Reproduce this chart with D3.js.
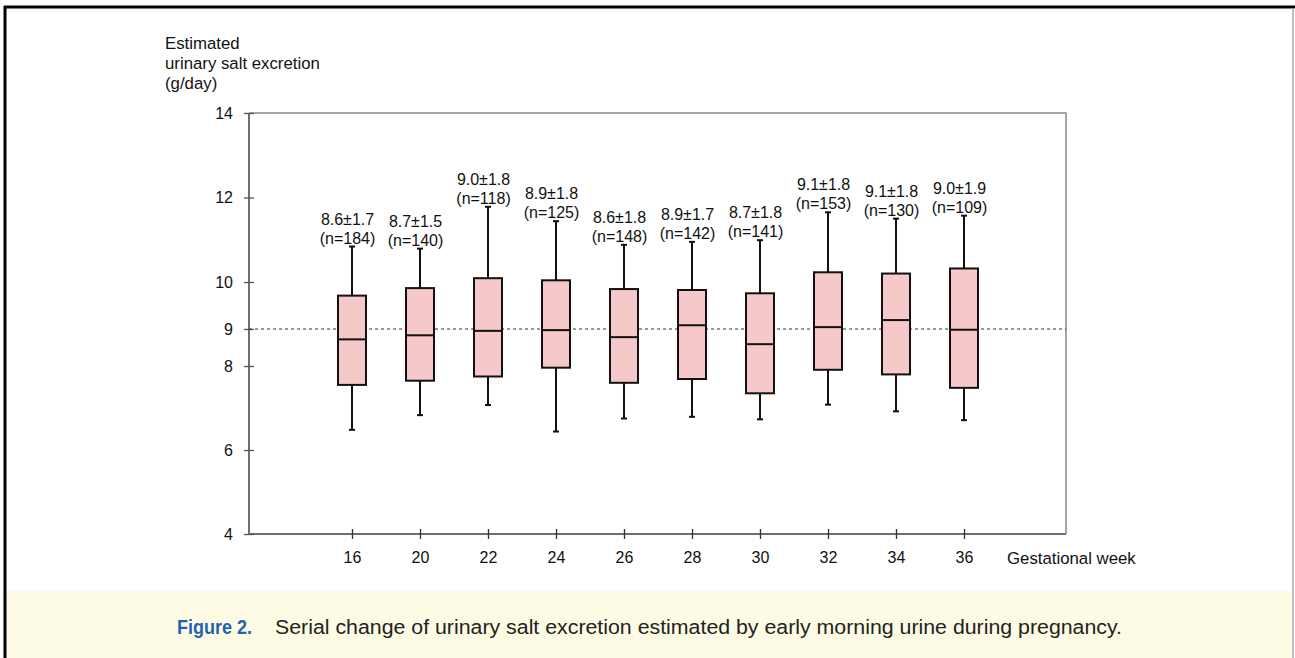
<!DOCTYPE html>
<html>
<head>
<meta charset="utf-8">
<script src="https://cdn.jsdelivr.net/npm/d3@7"></script>
<style>
  body { margin: 0; background: #fff; }
  svg { display: block; font-family: "Liberation Sans", Arial, sans-serif; }
</style>
</head>
<body>
<div id="chart"></div>
<script>
// Data
var weeks = ["16", "20", "22", "24", "26", "28", "30", "32", "34", "36"];
var whiskerLow  = [6.48, 6.83, 7.07, 6.44, 6.75, 6.79, 6.73, 7.08, 6.92, 6.71];
var q1          = [7.55, 7.65, 7.75, 7.96, 7.60, 7.69, 7.35, 7.91, 7.80, 7.48];
var medians     = [8.72, 8.83, 8.95, 8.97, 8.78, 9.08, 8.59, 9.04, 9.19, 8.98];
var q3          = [9.71, 9.87, 10.09, 10.04, 9.85, 9.83, 9.76, 10.23, 10.20, 10.32];
var whiskerHigh = [10.84, 10.79, 11.78, 11.44, 10.88, 10.95, 10.99, 11.65, 11.50, 11.57];
var meanLabels  = ["8.6\u00b11.7", "8.7\u00b11.5", "9.0\u00b11.8", "8.9\u00b11.8", "8.6\u00b11.8",
                   "8.9\u00b11.7", "8.7\u00b11.8", "9.1\u00b11.8", "9.1\u00b11.8", "9.0\u00b11.9"];
var nLabels     = ["(n=184)", "(n=140)", "(n=118)", "(n=125)", "(n=148)",
                   "(n=142)", "(n=141)", "(n=153)", "(n=130)", "(n=109)"];
var yTicks = [4, 6, 8, 9, 10, 12, 14];
var refValue = 9;

var w = 1295;
var h = 658;
var plotLeft = 249, plotRight = 1066;
var boxWidth = 28;
var capWidth = 6;

var svg = d3.select("#chart").append("svg").attr("width", w).attr("height", h);

// Outer figure frame and caption band
svg.append("rect").attr("x", 6).attr("y", 591).attr("width", 1287).attr("height", 67).attr("fill", "#fdfbe3");
svg.append("line").attr("x1", 4).attr("x2", w).attr("y1", 7).attr("y2", 7)
    .attr("stroke", "#000").attr("stroke-width", 3);
svg.append("line").attr("x1", 5).attr("x2", 5).attr("y1", 6).attr("y2", h)
    .attr("stroke", "#000").attr("stroke-width", 3);
svg.append("line").attr("x1", 1293).attr("x2", 1293).attr("y1", 8).attr("y2", h)
    .attr("stroke", "#aaa").attr("stroke-width", 1.5);

// Scales (the 9 g/day gridline sits a bit off the linear spacing in the original)
var x = d3.scalePoint().domain(weeks).range([352, 964]);
var y = d3.scaleLinear().domain([4, 8, 9, 10, 14]).range([534, 366, 329, 282, 113]);

// Plot frame
var frame = svg.append("g").attr("fill", "none");
frame.append("path")
    .attr("d", "M" + plotLeft + "," + y(14) + "H" + plotRight + "V" + y(4))
    .attr("stroke", "#888").attr("stroke-width", 1.5);
frame.append("path")
    .attr("d", "M" + plotLeft + "," + y(14) + "V" + y(4) + "H" + plotRight)
    .attr("stroke", "#6e6e6e").attr("stroke-width", 2);

// Y axis
var yAxis = svg.append("g")
    .attr("transform", "translate(" + plotLeft + ",0)")
    .call(d3.axisLeft(y).tickValues(yTicks).tickSizeInner(5).tickSizeOuter(0).tickPadding(11));
yAxis.select(".domain").remove();
yAxis.selectAll(".tick line").attr("x2", -5).attr("x1", 5).attr("stroke", "#555").attr("stroke-width", 1.3);
yAxis.selectAll("text").attr("font-size", "16px").attr("fill", "#111")
    .attr("font-family", "'Liberation Sans', Arial, sans-serif");

// X axis
var xAxis = svg.append("g")
    .attr("transform", "translate(0," + y(4) + ")")
    .call(d3.axisBottom(x).tickSizeInner(5).tickSizeOuter(0).tickPadding(13));
xAxis.select(".domain").remove();
xAxis.selectAll(".tick line").attr("y1", -5).attr("y2", 5).attr("stroke", "#333").attr("stroke-width", 1.3);
xAxis.selectAll("text").attr("font-size", "16px").attr("fill", "#111")
    .attr("font-family", "'Liberation Sans', Arial, sans-serif");

// Axis titles
svg.append("text")
    .attr("x", 165).attr("y", 49)
    .attr("font-size", "16.8px").attr("fill", "#111")
    .selectAll("tspan")
    .data(["Estimated", "urinary salt excretion", "(g/day)"])
    .enter()
    .append("tspan")
    .attr("x", 165)
    .attr("dy", function(d, i) { return i == 0 ? 0 : 20; })
    .text(function(d) { return d; });

svg.append("text")
    .attr("x", 1007).attr("y", 564)
    .attr("font-size", "16.8px").attr("fill", "#111")
    .text("Gestational week");

// Reference line at 9 g/day
svg.append("line")
    .attr("x1", plotLeft).attr("x2", plotRight)
    .attr("y1", y(refValue)).attr("y2", y(refValue))
    .attr("stroke", "#333").attr("stroke-width", 1.2)
    .attr("stroke-dasharray", "3,3");

// Box plots
var boxes = svg.selectAll(".box")
    .data(weeks)
    .enter()
    .append("g")
    .attr("class", "box")
    .attr("transform", function(d) { return "translate(" + x(d) + ",0)"; });

boxes.append("line")
    .attr("y1", function(d, i) { return y(whiskerHigh[i]); })
    .attr("y2", function(d, i) { return y(q3[i]); })
    .attr("stroke", "#111").attr("stroke-width", 2);
boxes.append("line")
    .attr("y1", function(d, i) { return y(q1[i]); })
    .attr("y2", function(d, i) { return y(whiskerLow[i]); })
    .attr("stroke", "#111").attr("stroke-width", 2);

// whisker caps
boxes.append("line")
    .attr("x1", -capWidth / 2).attr("x2", capWidth / 2)
    .attr("y1", function(d, i) { return y(whiskerHigh[i]); })
    .attr("y2", function(d, i) { return y(whiskerHigh[i]); })
    .attr("stroke", "#111").attr("stroke-width", 2);
boxes.append("line")
    .attr("x1", -capWidth / 2).attr("x2", capWidth / 2)
    .attr("y1", function(d, i) { return y(whiskerLow[i]); })
    .attr("y2", function(d, i) { return y(whiskerLow[i]); })
    .attr("stroke", "#111").attr("stroke-width", 2);

boxes.append("rect")
    .attr("x", -boxWidth / 2)
    .attr("width", boxWidth)
    .attr("y", function(d, i) { return y(q3[i]); })
    .attr("height", function(d, i) { return y(q1[i]) - y(q3[i]); })
    .attr("fill", "#f7c8c9").attr("stroke", "#111").attr("stroke-width", 2);

boxes.append("line")
    .attr("x1", -boxWidth / 2).attr("x2", boxWidth / 2)
    .attr("y1", function(d, i) { return y(medians[i]); })
    .attr("y2", function(d, i) { return y(medians[i]); })
    .attr("stroke", "#111").attr("stroke-width", 2);

// mean +/- SD and n labels above each box
boxes.append("text")
    .attr("x", -4.5)
    .attr("y", function(d, i) { return y(whiskerHigh[i]) - 22; })
    .attr("text-anchor", "middle")
    .attr("font-size", "16px").attr("fill", "#111")
    .text(function(d, i) { return meanLabels[i]; });
boxes.append("text")
    .attr("x", -4.5)
    .attr("y", function(d, i) { return y(whiskerHigh[i]) - 3; })
    .attr("text-anchor", "middle")
    .attr("font-size", "16px").attr("fill", "#111")
    .text(function(d, i) { return nLabels[i]; });

// Caption
svg.append("text")
    .attr("x", 177).attr("y", 634)
    .attr("font-family", "'Liberation Sans Narrow', 'Arial Narrow', 'Liberation Sans', sans-serif")
    .attr("font-weight", "bold")
    .attr("font-size", "20px")
    .attr("fill", "#1f63b3")
    .attr("textLength", 75).attr("lengthAdjust", "spacingAndGlyphs")
    .text("Figure 2.");
svg.append("text")
    .attr("x", 275).attr("y", 634)
    .attr("font-family", "'Liberation Sans Narrow', 'Arial Narrow', 'Liberation Sans', sans-serif")
    .attr("font-size", "20px")
    .attr("fill", "#222")
    .attr("textLength", 847).attr("lengthAdjust", "spacingAndGlyphs")
    .text("Serial change of urinary salt excretion estimated by early morning urine during pregnancy.");
</script>
</body>
</html>
